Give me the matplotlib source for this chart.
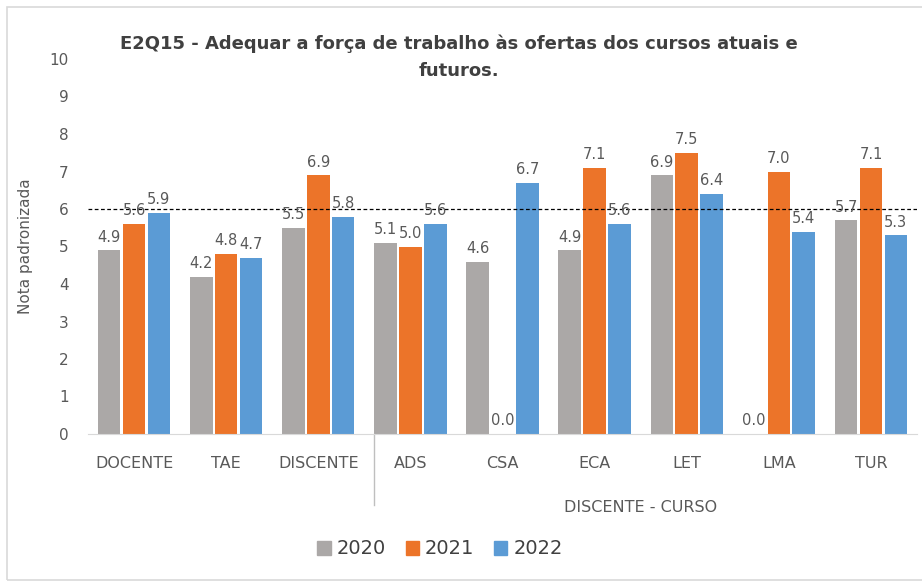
import matplotlib
matplotlib.use("Agg")
import matplotlib.pyplot as plt
import numpy as np
from matplotlib.patches import Rectangle

categories = ["DOCENTE", "TAE", "DISCENTE", "ADS", "CSA", "ECA", "LET", "LMA", "TUR"]
series_names = ["2020", "2021", "2022"]
v2020 = [4.9, 4.2, 5.5, 5.1, 4.6, 4.9, 6.9, 0.0, 5.7]
v2021 = [5.6, 4.8, 6.9, 5.0, 0.0, 7.1, 7.5, 7.0, 7.1]
v2022 = [5.9, 4.7, 5.8, 5.6, 6.7, 5.6, 6.4, 5.4, 5.3]
colors = ["#ABA8A7", "#EC7429", "#5B9BD5"]
title = "E2Q15 - Adequar a força de trabalho às ofertas dos cursos atuais e\nfuturos."
ylabel = "Nota padronizada"
group_label = "DISCENTE - CURSO"
reference = 6

plt.rcParams['font.family'] = ['DejaVu Sans']
fig = plt.figure(figsize=(9.22, 5.81), dpi=100)
ax = fig.add_axes([88/922, 1-434/581, (917-88)/922, (434-59)/581])

x = np.arange(len(categories))
w = 0.245
off = 0.27
txtc = "#595959"
for i, (vals, c, name) in enumerate(zip([v2020, v2021, v2022], colors, series_names)):
    pos = x + (i - 1) * off
    ax.bar(pos, vals, width=w, color=c, label=name, zorder=2)
    for p, v in zip(pos, vals):
        ax.annotate(f"{v:.1f}", (p, v), xytext=(0, 4), textcoords="offset points",
                    ha="center", va="bottom", fontsize=10.5, color=txtc, zorder=4)

ax.axhline(reference, color="#000000", linestyle=(0, (3, 2)), linewidth=0.9, zorder=3)

ax.set_xlim(-0.5, len(categories) - 0.5)
ax.set_ylim(0, 10)
ax.set_yticks(range(0, 11))
ax.set_xticks(x)
ax.set_xticklabels(categories)
ax.tick_params(axis="y", length=0, pad=14, labelsize=11, labelcolor=txtc)
ax.tick_params(axis="x", length=0, pad=16, labelsize=11.5, labelcolor=txtc)
for s in ["top", "right", "left"]:
    ax.spines[s].set_visible(False)
ax.spines["bottom"].set_color("#D9D9D9")
ax.set_ylabel(ylabel, fontsize=11, color=txtc)
ax.yaxis.set_label_coords(-(88-33)/829, 0.5)

# separator between groups and group label
sep = 2.5 + 0.1
ax.plot([sep, sep], [0, -0.19], transform=ax.get_xaxis_transform(), color="#BFBFBF",
        linewidth=1, clip_on=False)
ax.text(np.mean(x[3:]), -0.195, group_label, transform=ax.get_xaxis_transform(),
        ha="center", va="center", fontsize=11.5, color=txtc)

fig.text(459/922, 1-57/581, title, ha="center", va="center", fontsize=13,
         fontweight="bold", color="#404040", linespacing=1.65)

fig.legend(handles=[Rectangle((0, 0), 1, 1, color=c) for c in colors], labels=series_names,
           loc="center", bbox_to_anchor=(440/922, 1-549/581), ncol=3, frameon=False,
           fontsize=14, handlelength=0.7, handleheight=0.7, handletextpad=0.3,
           columnspacing=1.0, labelcolor="#404040")

fig.patches.append(Rectangle((7/922, 0.002), 1.1, 1-7/581-0.002, transform=fig.transFigure,
                             fill=False, edgecolor="#D9D9D9", linewidth=1.2))

fig.savefig("out.png", dpi=100)
